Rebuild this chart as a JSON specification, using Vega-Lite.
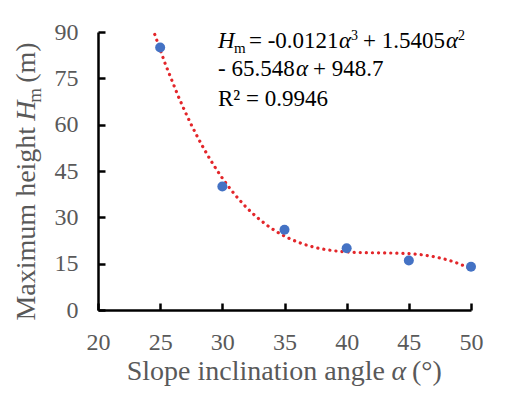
{
  "$schema": "https://vega.github.io/schema/vega-lite/v6.json",
  "autosize": "none",
  "width": 373,
  "height": 278,
  "padding": {"left": 98, "top": 32, "right": 44, "bottom": 84},
  "background": "white",
  "datasets": {
    "pts": [
      {"a": 25, "h": 85},
      {"a": 30, "h": 40},
      {"a": 35, "h": 26},
      {"a": 40, "h": 20},
      {"a": 45, "h": 16},
      {"a": 50, "h": 14}
    ],
    "one": [{"k": 1}]
  },
  "config": {
    "view": {"stroke": null},
    "font": "Liberation Serif",
    "text": {"font": "Liberation Serif", "baseline": "alphabetic", "clip": false},
    "axis": {
      "grid": false,
      "domainColor": "black",
      "domainWidth": 2.5,
      "tickColor": "black",
      "tickWidth": 2.5,
      "tickSize": -7,
      "labelFlush": false,
      "labelFont": "Liberation Serif",
      "labelFontSize": 24,
      "labelColor": "#595959",
      "title": null
    }
  },
  "data": {"name": "pts"},
  "layer": [
    {
      "transform": [{"regression": "h", "on": "a", "method": "poly", "order": 3, "extent": [24.4, 50]}],
      "mark": {"type": "line", "color": "#E3262A", "strokeWidth": 3.2, "strokeDash": [0.1, 6], "strokeCap": "round", "clip": true},
      "encoding": {
        "x": {"field": "a", "type": "quantitative", "scale": {"domain": [20, 50], "nice": false, "zero": false},
          "axis": {"values": [20, 25, 30, 35, 40, 45, 50], "title": null, "labelPadding": 27}},
        "y": {"field": "h", "type": "quantitative", "scale": {"domain": [0, 90], "nice": false},
          "axis": {"values": [0, 15, 30, 45, 60, 75, 90], "title": null, "labelPadding": 27}}
      }
    },
    {
      "mark": {"type": "circle", "size": 100, "color": "#4472C4", "opacity": 1},
      "encoding": {
        "x": {"field": "a", "type": "quantitative"},
        "y": {"field": "h", "type": "quantitative"}
      }
    },
    {"data": {"name": "one"}, "mark": {"type": "text", "text": "Slope inclination angle", "align": "right", "fontSize": 28, "color": "#595959", "dx": -14, "dy": 70},
      "encoding": {"x": {"datum": 44.2}, "y": {"datum": 0}}},
    {"data": {"name": "one"}, "mark": {"type": "text", "text": "α", "align": "center", "fontStyle": "italic", "fontSize": 28, "color": "#595959", "dy": 70},
      "encoding": {"x": {"datum": 44.2}, "y": {"datum": 0}}},
    {"data": {"name": "one"}, "mark": {"type": "text", "text": "(°)", "align": "left", "fontSize": 28, "color": "#595959", "dx": 13, "dy": 70},
      "encoding": {"x": {"datum": 44.2}, "y": {"datum": 0}}},

    {"data": {"name": "one"}, "mark": {"type": "text", "text": "Maximum height", "align": "right", "angle": 270, "fontSize": 28, "color": "#595959", "dx": -6, "dy": -63.5},
      "encoding": {"x": {"datum": 20}, "y": {"datum": 61.23}}},
    {"data": {"name": "one"}, "mark": {"type": "text", "text": "H", "align": "left", "angle": 270, "fontStyle": "italic", "fontSize": 28, "color": "#595959", "dx": 0, "dy": -63.5},
      "encoding": {"x": {"datum": 20}, "y": {"datum": 61.23}}},
    {"data": {"name": "one"}, "mark": {"type": "text", "text": "m", "align": "left", "angle": 270, "fontSize": 19, "color": "#595959", "dx": 18, "dy": -57.5},
      "encoding": {"x": {"datum": 20}, "y": {"datum": 61.23}}},
    {"data": {"name": "one"}, "mark": {"type": "text", "text": "(m)", "align": "left", "angle": 270, "fontSize": 28, "color": "#595959", "dx": 38, "dy": -63.5},
      "encoding": {"x": {"datum": 20}, "y": {"datum": 61.23}}},

    {"data": {"name": "one"}, "mark": {"type": "text", "text": "H", "align": "left", "fontStyle": "italic", "fontSize": 23, "color": "black", "dx": 0},
      "encoding": {"x": {"datum": 29.65}, "y": {"datum": 84.88}}},
    {"data": {"name": "one"}, "mark": {"type": "text", "text": "m", "align": "left", "fontSize": 15, "color": "black", "dx": 16, "dy": 5},
      "encoding": {"x": {"datum": 29.65}, "y": {"datum": 84.88}}},
    {"data": {"name": "one"}, "mark": {"type": "text", "text": "= -0.0121", "align": "left", "fontSize": 23, "color": "black", "dx": 31},
      "encoding": {"x": {"datum": 29.65}, "y": {"datum": 84.88}}},
    {"data": {"name": "one"}, "mark": {"type": "text", "text": "α", "align": "left", "fontStyle": "italic", "fontSize": 23, "color": "black", "dx": 121},
      "encoding": {"x": {"datum": 29.65}, "y": {"datum": 84.88}}},
    {"data": {"name": "one"}, "mark": {"type": "text", "text": "3", "align": "left", "fontSize": 14, "color": "black", "dx": 133, "dy": -8},
      "encoding": {"x": {"datum": 29.65}, "y": {"datum": 84.88}}},
    {"data": {"name": "one"}, "mark": {"type": "text", "text": "+ 1.5405", "align": "left", "fontSize": 23, "color": "black", "dx": 145},
      "encoding": {"x": {"datum": 29.65}, "y": {"datum": 84.88}}},
    {"data": {"name": "one"}, "mark": {"type": "text", "text": "α", "align": "left", "fontStyle": "italic", "fontSize": 23, "color": "black", "dx": 228},
      "encoding": {"x": {"datum": 29.65}, "y": {"datum": 84.88}}},
    {"data": {"name": "one"}, "mark": {"type": "text", "text": "2", "align": "left", "fontSize": 14, "color": "black", "dx": 240, "dy": -8},
      "encoding": {"x": {"datum": 29.65}, "y": {"datum": 84.88}}},

    {"data": {"name": "one"}, "mark": {"type": "text", "text": "- 65.548", "align": "left", "fontSize": 23, "color": "black", "dx": 0},
      "encoding": {"x": {"datum": 29.65}, "y": {"datum": 75.81}}},
    {"data": {"name": "one"}, "mark": {"type": "text", "text": "α", "align": "left", "fontStyle": "italic", "fontSize": 23, "color": "black", "dx": 78},
      "encoding": {"x": {"datum": 29.65}, "y": {"datum": 75.81}}},
    {"data": {"name": "one"}, "mark": {"type": "text", "text": "+ 948.7", "align": "left", "fontSize": 23, "color": "black", "dx": 95},
      "encoding": {"x": {"datum": 29.65}, "y": {"datum": 75.81}}},

    {"data": {"name": "one"}, "mark": {"type": "text", "text": "R² = 0.9946", "align": "left", "fontSize": 23, "color": "black", "dx": 0},
      "encoding": {"x": {"datum": 29.65}, "y": {"datum": 66.09}}}
  ]
}
